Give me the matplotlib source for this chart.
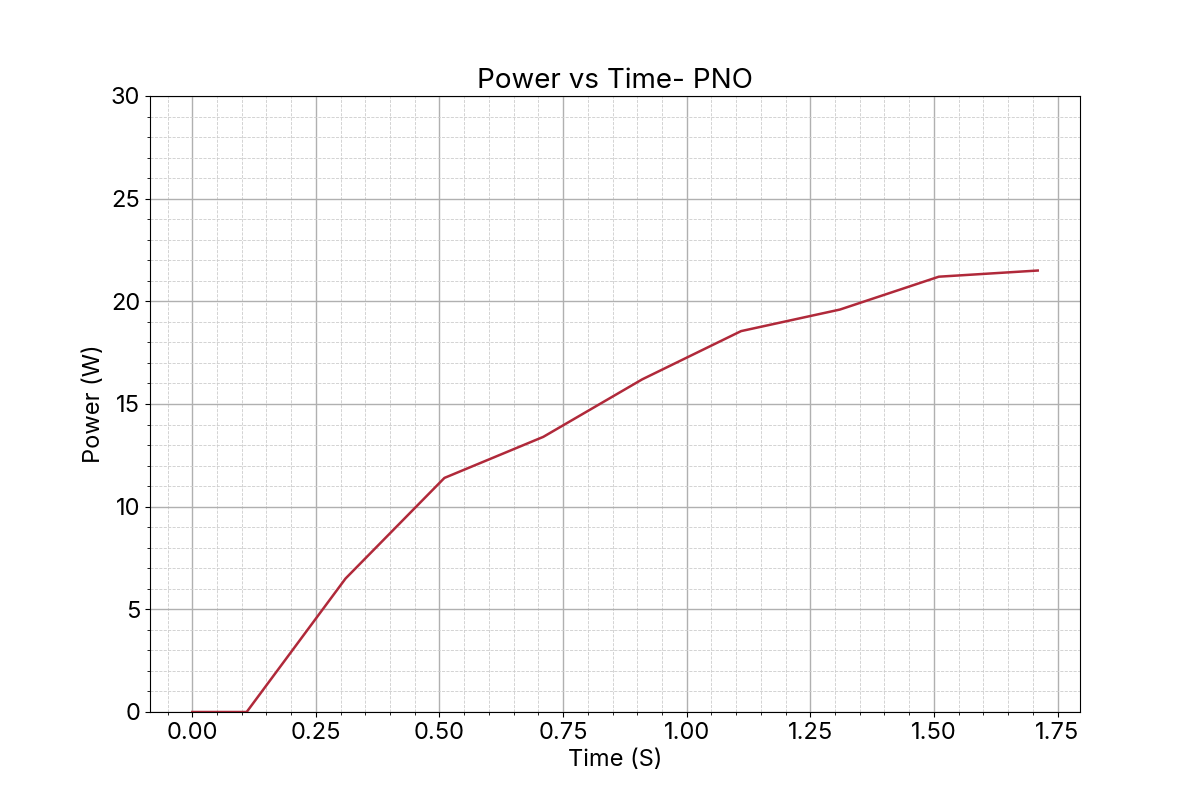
import matplotlib
matplotlib.use('Agg')
import matplotlib.pyplot as plt
from matplotlib.ticker import AutoMinorLocator

plt.rcParams['font.family'] = ['Inter', 'DejaVu Sans']

time_s = [0.0, 0.11, 0.31, 0.51, 0.71, 0.91, 1.11, 1.31, 1.51, 1.71]
power_w = [0.0, 0.0, 6.5, 11.4, 13.4, 16.2, 18.55, 19.6, 21.2, 21.5]

fig, ax = plt.subplots(figsize=(12, 8), dpi=100)
ax.plot(time_s, power_w, color='#b0293a', linewidth=1.8)

ax.set_ylim(0, 30)
ax.set_title('Power vs Time- PNO', fontsize=20)
ax.set_xlabel('Time (S)', fontsize=17)
ax.set_ylabel('Power (W)', fontsize=17)
ax.tick_params(axis='both', which='major', labelsize=17)

ax.xaxis.set_minor_locator(AutoMinorLocator(5))
ax.yaxis.set_minor_locator(AutoMinorLocator(5))
ax.grid(True, which='major', color='#b0b0b0', linewidth=1)
ax.grid(True, which='minor', color='#cccccc', linestyle='--', linewidth=0.6)
ax.set_axisbelow(True)

plt.savefig('out.png')
